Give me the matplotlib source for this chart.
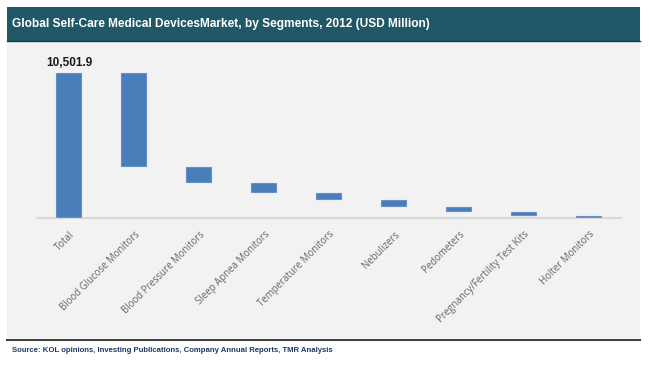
import numpy as np
import matplotlib
matplotlib.use("Agg")
import matplotlib.pyplot as plt
from matplotlib.patches import Rectangle
from matplotlib.lines import Line2D

# data (USD Million)
categories = ["Total", "Blood Glucose Monitors", "Blood Pressure Monitors",
              "Sleep Apnea Monitors", "Temperature Monitors", "Nebulizers",
              "Pedometers", "Pregnancy/Fertility Test Kits", "Holter Monitors"]
total = 10501.9
segments = [6810, 1160, 720, 510, 500, 365, 290, 146.9]

W, H = 650, 368
fig = plt.figure(figsize=(W / 100, H / 100), dpi=100, facecolor="white")

def fx(px):
    return px / W

def fy(py):
    return 1 - py / H

# gray panel + title bar (behind the axes)
fig.patches.append(Rectangle((fx(7), fy(338)), fx(633), (338 - 42) / H,
                             transform=fig.transFigure, facecolor="#f2f2f2",
                             edgecolor="none", zorder=-5))
fig.patches.append(Rectangle((fx(7), fy(42)), fx(633), (42 - 7) / H,
                             transform=fig.transFigure, facecolor="#215867",
                             edgecolor="none", zorder=-5))
fig.lines.append(Line2D([fx(7), fx(640)], [fy(41), fy(41)], transform=fig.transFigure,
                        color="#17404c", lw=1.0, zorder=-4))
fig.lines.append(Line2D([fx(7), fx(640)], [fy(339.5), fy(339.5)], transform=fig.transFigure,
                        color="#404040", lw=1.5, zorder=-4))

narrow = ["Liberation Sans Narrow", "Liberation Sans", "DejaVu Sans"]
fig.text(fx(12), fy(24.5), "Global Self-Care Medical DevicesMarket, by Segments, 2012 (USD Million)",
         color="white", fontsize=8.6, fontweight="bold", family=narrow, va="center", ha="left")
fig.text(fx(12), fy(350), "Source: KOL opinions, Investing Publications, Company Annual Reports, TMR Analysis",
         color="#1f3864", fontsize=5.6, fontweight="bold", family=narrow, va="center", ha="left")

# waterfall axes
ax = fig.add_axes([fx(37), fy(218), fx(584), 160 / H])
ax.set_facecolor("none")
ax.set_zorder(2)

heights = [total] + segments
bottoms = [0.0] + list(total - np.cumsum(segments))
x = np.arange(len(categories))
ax.bar(x, heights, bottom=bottoms, width=0.4, color="#4a7ebb",
       edgecolor="#c9d8ec", linewidth=0.3, zorder=2)

ax.text(x[0], total + 250, f"{total:,.1f}", ha="center", va="bottom",
        fontsize=8.5, fontweight="bold", family=["Liberation Sans", "DejaVu Sans"], color="#1a1a1a")

ax.set_xlim(-0.5, len(categories) - 0.5)
ax.set_ylim(0, 11584)
ax.set_yticks([])
for s in ["top", "right", "left"]:
    ax.spines[s].set_visible(False)
ax.spines["bottom"].set_color("#d9d9d9")
ax.spines["bottom"].set_linewidth(1.5)
ax.spines["bottom"].set_zorder(1)
ax.tick_params(axis="x", length=0, pad=8)
ax.set_xticks(x)
ax.set_xticklabels(categories, rotation=45, ha="right", rotation_mode="anchor",
                   fontsize=6.9, color="#666666", family=["Open Sans", "DejaVu Sans"])

fig.savefig("out.png", dpi=100, facecolor="white")
